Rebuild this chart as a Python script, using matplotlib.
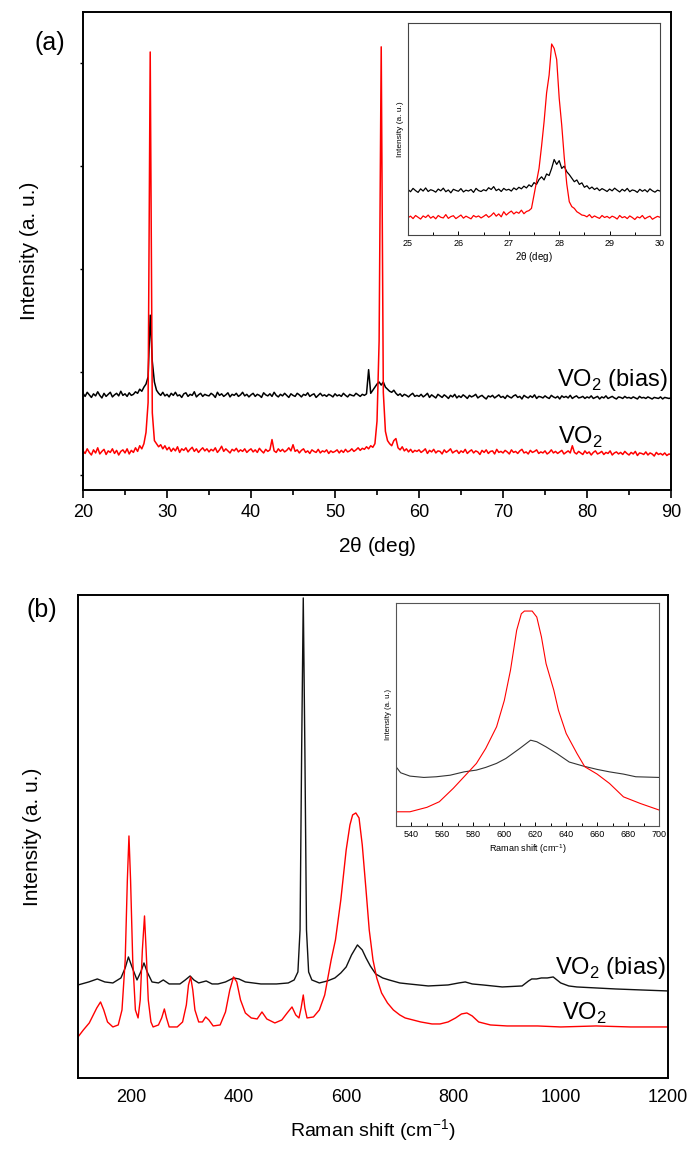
import numpy as np
import matplotlib
matplotlib.use("Agg")
import matplotlib.pyplot as plt

plt.rcParams['font.family'] = ['Liberation Sans', 'DejaVu Sans']
plt.rcParams['mathtext.fontset'] = 'custom'
plt.rcParams['mathtext.rm'] = 'Liberation Sans'

# XRD, 2theta grid 20..90 step 0.25 deg
xrd_start, xrd_stop, xrd_step = 20.0, 90.0, 0.25
xrd_vo2 = [
    230, 205, 250, 215, 190, 240, 210, 260, 200, 225, 245, 195, 230, 215, 250, 205, 235, 190, 225, 240,
    210, 250, 200, 235, 215, 260, 225, 280, 250, 300, 410, 700, 4110, 600, 330, 300, 270, 290, 250, 280,
    240, 265, 225, 255, 230, 270, 215, 250, 235, 260, 220, 245, 265, 225, 250, 215, 240, 260, 230, 250,
    220, 245, 230, 260, 215, 240, 275, 225, 250, 230, 210, 245, 230, 255, 220, 240, 225, 250, 215, 235,
    250, 220, 240, 215, 255, 230, 210, 245, 225, 240, 340, 230, 215, 250, 225, 245, 220, 235, 260, 230,
    290, 225, 240, 210, 235, 250, 215, 230, 205, 240, 225, 215, 245, 210, 230, 220, 240, 205, 230, 215,
    225, 240, 210, 235, 215, 245, 220, 230, 250, 225, 240, 260, 235, 255, 245, 270, 250, 280, 265, 300,
    520, 1300, 4160, 800, 420, 330, 300, 280, 330, 350, 260, 240, 270, 230, 250, 220, 245, 215, 235, 225,
    240, 215, 230, 250, 205, 235, 220, 245, 210, 230, 225, 200, 240, 215, 230, 250, 210, 225, 235, 205,
    230, 215, 245, 205, 225, 240, 210, 230, 220, 195, 235, 215, 240, 205, 225, 230, 200, 245, 215, 225,
    210, 235, 220, 200, 240, 215, 225, 205, 230, 245, 210, 220, 200, 235, 215, 225, 240, 205, 220, 210,
    230, 200, 215, 240, 210, 225, 205, 220, 235, 200, 215, 230, 210, 280, 215, 200, 225, 210, 195, 230,
    205, 220, 190, 215, 230, 200, 210, 225, 195, 215, 205, 230, 190, 210, 220, 200, 215, 195, 225, 205,
    190, 215, 200, 225, 185, 210, 205, 195, 220, 190, 210, 200, 180, 215, 195, 205, 190, 210, 185, 200,
    195,
]
xrd_bias = [
    790, 760, 800, 775, 750, 785, 765, 805, 770, 745, 790, 760, 780, 800, 755, 775, 790, 765, 810, 770,
    785, 760, 795, 770, 780, 805, 790, 830, 810, 850, 880, 950, 1550, 1100, 900, 820, 790, 770, 800, 765,
    780, 755, 790, 770, 800, 765, 775, 750, 785, 795, 760, 780, 770, 805, 755, 775, 790, 760, 780, 770,
    765, 790, 775, 750, 800, 770, 785, 760, 775, 795, 755, 780, 770, 790, 760, 775, 800, 765, 780, 755,
    775, 790, 760, 780, 770, 750, 795, 775, 765, 785, 760, 800, 770, 755, 780, 765, 790, 770, 750, 785,
    770, 760, 790, 775, 755, 780, 770, 795, 760, 775, 785, 750, 770, 790, 765, 775, 760, 780, 770, 755,
    785, 765, 775, 760, 790, 770, 755, 780, 770, 765, 790, 775, 760, 780, 770, 785, 1020, 790, 820, 850,
    880, 900, 870, 900, 850, 830, 810, 800, 820, 790, 770, 785, 760, 780, 770, 755, 775, 790, 760, 770,
    760, 780, 755, 770, 790, 750, 775, 760, 745, 780, 765, 750, 775, 760, 740, 770, 755, 780, 745, 765,
    750, 775, 760, 740, 770, 755, 765, 780, 745, 760, 770, 750, 735, 765, 755, 770, 745, 760, 775, 750,
    760, 740, 770, 755, 745, 765, 775, 750, 760, 735, 770, 755, 745, 765, 750, 775, 740, 760, 755, 745,
    765, 750, 740, 770, 755, 745, 760, 735, 765, 750, 760, 745, 770, 740, 755, 765, 745, 750, 760, 740,
    755, 745, 765, 740, 750, 760, 735, 755, 745, 765, 740, 750, 760, 745, 735, 755, 750, 740, 760, 745,
    750, 740, 755, 745, 735, 760, 745, 750, 740, 755, 745, 735, 750, 745, 740, 755, 735, 750, 745, 740,
    745,
]

# XRD inset, 25..30 step 0.05 deg
ins_a_start, ins_a_stop, ins_a_step = 25.0, 30.0, 0.05
ins_a_vo2 = [
    78, 85, 74, 88, 80, 72, 86, 79, 90, 76,
    84, 73, 88, 80, 77, 92, 75, 83, 87, 74,
    82, 90, 76, 85, 79, 73, 88, 81, 86, 77,
    84, 92, 80, 88, 100, 85, 95, 82, 105, 90,
    100, 108, 95, 104, 98, 112, 96, 106, 110, 120,
    180, 240, 300, 400, 510, 640, 720, 860, 840, 790,
    616, 495, 350, 230, 150, 128, 120, 105, 98, 90,
    88, 82, 92, 78, 86, 80, 75, 88, 79, 84,
    76, 85, 80, 72, 88, 78, 83, 74, 86, 79,
    70, 82, 77, 88, 73, 80, 85, 71, 78, 84,
    80,
]
ins_a_bias = [
    205, 195, 210, 200, 192, 208, 198, 212, 196, 204,
    200, 193, 207, 199, 211, 195, 203, 190, 206, 201,
    197, 209, 194, 202, 198, 205, 192, 210, 200, 196,
    204, 199, 213, 205, 218, 200, 207, 196, 210, 202,
    206, 198, 212, 204, 215, 208, 220, 212, 226, 218,
    236, 228, 250, 262, 248, 275, 268, 300, 340, 318,
    335, 300, 310, 285, 272, 256, 240, 248, 228, 235,
    215, 222, 208, 216, 205, 212, 200, 209, 203, 196,
    207, 199, 211, 202, 194, 206, 198, 210, 195, 203,
    200, 192, 206, 197, 204, 194, 208, 199, 193, 202,
    198,
]

# Raman
raman_vo2_x = [100, 110, 121, 135, 142, 148, 155, 165, 175, 182, 188, 192, 195, 198, 202, 207, 212, 216,
               220, 224, 227, 231, 236, 240, 250, 256, 261, 265, 270, 285, 295, 302, 306, 310, 314, 318,
               325, 332, 338, 344, 352, 365, 375, 383, 390, 396, 403, 412, 423, 434, 443, 452, 467, 480,
               490, 499, 506, 512, 516, 520, 523, 527, 539, 550, 560, 572, 580, 590, 600, 607, 612, 618,
               624, 630, 637, 643, 650, 657, 666, 677, 688, 700, 710, 739, 760, 775, 790, 804, 815, 825,
               835, 847, 869, 900, 957, 1000, 1066, 1130, 1200]
raman_vo2_y = [680, 750, 820, 970, 1030, 950, 830, 780, 800, 950, 1450, 2250, 2690, 2250, 1450, 950, 870, 1050,
               1550, 1890, 1550, 1050, 830, 780, 800, 870, 960, 870, 780, 780, 830, 1000, 1200, 1280, 1150, 950,
               830, 830, 880, 850, 790, 800, 930, 1150, 1280, 1230, 1050, 920, 870, 860, 930, 860, 820, 850,
               920, 980, 900, 870, 970, 1100, 970, 870, 880, 950, 1100, 1450, 1650, 2050, 2550, 2800, 2900, 2920,
               2870, 2600, 2150, 1750, 1450, 1270, 1120, 1020, 950, 900, 870, 830, 810, 810, 830, 870, 910, 920,
               890, 830, 800, 790, 790, 780, 790, 780, 780]
raman_bias_x = [100, 120, 136, 150, 165, 180, 188, 194, 200, 210, 217, 223, 229, 238, 250, 259, 270, 290,
                300, 309, 316, 325, 339, 350, 361, 375, 390, 400, 412, 441, 470, 492, 503, 510, 514, 517,
                520, 523, 526, 530, 536, 550, 565, 579, 590, 600, 610, 621, 630, 637, 645, 655, 668, 680,
                700, 717, 753, 790, 810, 822, 835, 855, 891, 928, 940, 946, 955, 964, 975, 986, 993, 1000,
                1015, 1030, 1102, 1150, 1200]
raman_bias_y = [1200, 1230, 1260, 1230, 1220, 1270, 1370, 1480, 1390, 1250, 1330, 1420, 1330, 1230, 1220, 1250, 1210, 1210,
                1250, 1290, 1250, 1220, 1240, 1210, 1210, 1230, 1270, 1260, 1230, 1210, 1210, 1220, 1250, 1330, 1750, 3550,
                5070, 3550, 1750, 1330, 1250, 1220, 1240, 1270, 1320, 1380, 1500, 1600, 1550, 1470, 1390, 1310, 1270, 1250,
                1220, 1210, 1190, 1200, 1220, 1230, 1210, 1200, 1180, 1190, 1240, 1260, 1260, 1270, 1270, 1280, 1250, 1220,
                1190, 1180, 1160, 1150, 1140]

# Raman inset
ins_b_vo2_x = [530, 539, 550, 558, 567, 576, 582, 588, 595, 600, 604, 608, 611, 613, 618, 621, 624, 627,
               632, 635, 640, 647, 652, 660, 668, 677, 688, 700]
ins_b_vo2_y = [64, 64, 84, 109, 169, 236, 281, 348, 445, 563, 699, 878, 952, 964, 964, 937, 848, 728,
               609, 519, 415, 325, 266, 233, 191, 131, 101, 72]
ins_b_bias_x = [530, 533, 539, 548, 556, 565, 574, 582, 588, 595, 601, 610, 617, 621, 627, 634, 642, 651,
                660, 668, 677, 685, 700]
ins_b_bias_y = [266, 239, 224, 218, 221, 228, 243, 251, 263, 281, 303, 348, 385, 378, 355, 325, 287, 269,
                254, 243, 233, 221, 218]

RED = '#ff0000'

fig = plt.figure(figsize=(6.94, 11.55), dpi=100)

# ---- (a) XRD ----
ax1 = fig.add_axes([0.1196, 0.5758, 0.8473, 0.4139])
x_xrd = np.arange(xrd_start, xrd_stop + xrd_step / 2, xrd_step)
ax1.plot(x_xrd, xrd_bias, color='black', lw=1.1)
ax1.plot(x_xrd, xrd_vo2, color=RED, lw=1.1)
ax1.set_xlim(20, 90)
ax1.set_ylim(-150, 4500)
ax1.set_xticks(np.arange(20, 91, 10))
ax1.set_xticks(np.arange(25, 90, 10), minor=True)
ax1.set_yticks(np.arange(0, 4001, 1000))
ax1.set_yticklabels([])
ax1.tick_params(axis='x', which='major', length=6, width=1.2, labelsize=13, pad=4)
ax1.tick_params(axis='x', which='minor', length=3.5, width=1.2)
ax1.tick_params(axis='y', length=2.5, width=1.0)
for s in ax1.spines.values():
    s.set_linewidth(1.4)
ax1.set_xlabel(r'2$\mathregular{\theta}$ (deg)', fontsize=15, labelpad=10)
ax1.set_ylabel('Intensity (a. u.)', fontsize=15, labelpad=26)
ax1.text(89.6, 920, r'VO$_\mathregular{2}$ (bias)', fontsize=17, ha='right', va='center')
ax1.text(79.2, 366, r'VO$_\mathregular{2}$', fontsize=17, ha='center', va='center')
fig.text(0.072, 0.963, '(a)', fontsize=18, ha='center', va='center')

# inset (a)
in1 = fig.add_axes([0.5879, 0.7965, 0.3631, 0.1835])
x_in1 = np.arange(ins_a_start, ins_a_stop + ins_a_step / 2, ins_a_step)
in1.plot(x_in1, ins_a_bias, color='black', lw=0.9)
in1.plot(x_in1, ins_a_vo2, color=RED, lw=0.9)
in1.set_xlim(25, 30)
in1.set_ylim(0, 954)
in1.set_xticks(np.arange(25, 31, 1))
in1.set_xticks(np.arange(25.5, 30, 1), minor=True)
in1.set_yticks([])
in1.tick_params(axis='x', which='both', direction='in', labelsize=6.5, width=0.7, pad=3)
in1.tick_params(axis='x', which='major', length=3)
in1.tick_params(axis='x', which='minor', length=2)
for s in in1.spines.values():
    s.set_linewidth(0.8)
    s.set_color('#444444')
in1.set_xlabel(r'2$\mathregular{\theta}$ (deg)', fontsize=7, labelpad=1)
in1.set_ylabel('Intensity (a. u.)', fontsize=6, labelpad=3)

# ---- (b) Raman ----
ax2 = fig.add_axes([0.1124, 0.0667, 0.8501, 0.4182])
ax2.plot(raman_bias_x, raman_bias_y, color='#111111', lw=1.0)
ax2.plot(raman_vo2_x, raman_vo2_y, color=RED, lw=1.0)
ax2.set_xlim(100, 1200)
ax2.set_ylim(270, 5100)
ax2.set_xticks(np.arange(200, 1201, 200))
ax2.set_yticks([])
ax2.tick_params(axis='x', length=0, labelsize=13, pad=8)
for s in ax2.spines.values():
    s.set_linewidth(1.4)
ax2.set_xlabel(r'Raman shift (cm$^\mathregular{-1}$)', fontsize=14, labelpad=8)
ax2.set_ylabel('Intensity (a. u.)', fontsize=15, labelpad=26)
ax2.text(1196, 1370, r'VO$_\mathregular{2}$ (bias)', fontsize=17, ha='right', va='center')
ax2.text(1045, 920, r'VO$_\mathregular{2}$', fontsize=17, ha='center', va='center')
fig.text(0.06, 0.472, '(b)', fontsize=18, ha='center', va='center')

# inset (b)
in2 = fig.add_axes([0.5706, 0.2848, 0.379, 0.1931])
in2.plot(ins_b_bias_x, ins_b_bias_y, color='#333333', lw=0.8)
in2.plot(ins_b_vo2_x, ins_b_vo2_y, color=RED, lw=0.8)
in2.set_xlim(530, 700)
in2.set_ylim(0, 1000)
in2.set_xticks(np.arange(540, 701, 20))
in2.set_xticks(np.arange(530, 701, 10), minor=True)
in2.set_yticks([])
in2.tick_params(axis='x', which='both', direction='in', labelsize=6.5, width=0.7, pad=3)
in2.tick_params(axis='x', which='major', length=3)
in2.tick_params(axis='x', which='minor', length=2)
for s in in2.spines.values():
    s.set_linewidth(0.8)
    s.set_color('#555555')
in2.set_xlabel(r'Raman shift (cm$^\mathregular{-1}$)', fontsize=6.5, labelpad=2)
in2.set_ylabel('Intensity (a. u.)', fontsize=5.5, labelpad=3)

fig.savefig('out.png', dpi=100)
